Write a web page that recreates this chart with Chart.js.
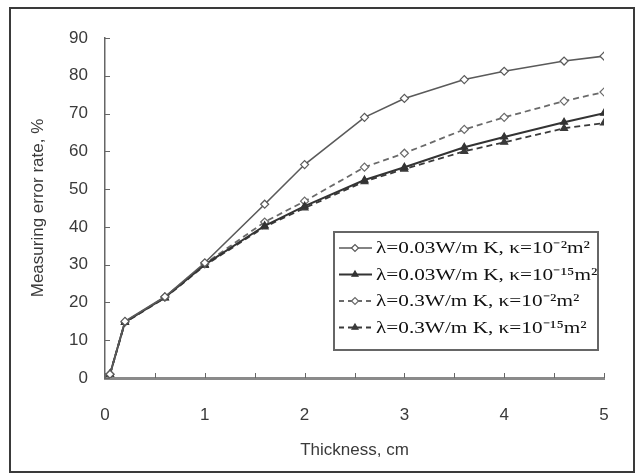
<!DOCTYPE html>
<html>
<head>
<meta charset="utf-8">
<script src="https://cdn.jsdelivr.net/npm/chart.js@4.4.1/dist/chart.umd.min.js"></script>
<style>
  html, body { margin: 0; padding: 0; background: #fff; }
  #frame { position: absolute; left: 9px; top: 7px; width: 626px; height: 466px; border: 2px solid #3a3a3a; box-sizing: border-box; }
  #wrap { position: absolute; left: 0; top: 0; width: 638px; height: 475px; }
</style>
</head>
<body>
<div id="frame"></div>
<div id="wrap"><canvas id="chart" width="638" height="475"></canvas></div>
<script>
// ---- データ ----
const thickness = [0.05, 0.2, 0.6, 1.0, 1.6, 2.0, 2.6, 3.0, 3.6, 4.0, 4.6, 5.0];
const errA = [1, 15, 21.5, 30.5, 46, 56.5, 69, 74, 79, 81.2, 83.9, 85.2];     // λ=0.03, κ=10^-2
const errB = [1, 14.8, 21.3, 30, 40.3, 45.5, 52.4, 55.8, 61.1, 63.8, 67.7, 70.1]; // λ=0.03, κ=10^-15
const errC = [1, 14.8, 21.4, 30.2, 41.3, 46.8, 55.8, 59.5, 65.8, 69.0, 73.3, 75.7]; // λ=0.3, κ=10^-2
const errD = [1, 14.7, 21.2, 29.8, 40, 45, 52.0, 55.3, 60.0, 62.4, 66.1, 67.5];  // λ=0.3, κ=10^-15
const seriesLabels = [
    'λ=0.03W/m K, κ=10⁻²m²',
    'λ=0.03W/m K, κ=10⁻¹⁵m²',
    'λ=0.3W/m K, κ=10⁻²m²',
    'λ=0.3W/m K, κ=10⁻¹⁵m²',
];

const sansFont = "'Liberation Sans', Arial, sans-serif";
const serifFont = "'Liberation Serif', 'Times New Roman', serif";

function toPoints(ys) {
    return thickness.map((x, i) => ({ x, y: ys[i] }));
}

function makeDataset(label, ys, opts) {
    return {
        label,
        data: toPoints(ys),
        borderColor: opts.color,
        borderWidth: opts.width,
        borderDash: opts.dash || [],
        pointStyle: opts.point,
        pointRadius: 4,
        pointBorderWidth: 1.2,
        pointBorderColor: opts.color,
        pointBackgroundColor: opts.fill,
        tension: 0,
    };
}

const datasets = [
    makeDataset(seriesLabels[0], errA, { color: '#5a5a5a', width: 1.6, point: 'rectRot', fill: '#ffffff' }),
    makeDataset(seriesLabels[1], errB, { color: '#333333', width: 2, point: 'triangle', fill: '#333333' }),
    makeDataset(seriesLabels[2], errC, { color: '#6a6a6a', width: 1.8, dash: [6, 4], point: 'rectRot', fill: '#ffffff' }),
    makeDataset(seriesLabels[3], errD, { color: '#3a3a3a', width: 1.8, dash: [6, 4], point: 'triangle', fill: '#3a3a3a' }),
];

// 内向きの目盛り線
const innerTicks = {
    id: 'innerTicks',
    afterDraw(chart) {
        const { ctx, chartArea, scales } = chart;
        ctx.save();
        ctx.strokeStyle = '#666';
        ctx.lineWidth = 1;
        scales.x.ticks.forEach(t => {
            const px = Math.round(scales.x.getPixelForValue(t.value)) + 0.5;
            ctx.beginPath();
            ctx.moveTo(px, chartArea.bottom);
            ctx.lineTo(px, chartArea.bottom - 5);
            ctx.stroke();
        });
        scales.y.ticks.forEach(t => {
            const py = Math.round(scales.y.getPixelForValue(t.value)) + 0.5;
            ctx.beginPath();
            ctx.moveTo(chartArea.left, py);
            ctx.lineTo(chartArea.left + 5, py);
            ctx.stroke();
        });
        ctx.restore();
    }
};

// グラフ内の凡例（横に引き伸ばした明朝体）
const boxLegend = {
    id: 'boxLegend',
    afterDraw(chart) {
        const { ctx, chartArea } = chart;
        const left = chartArea.right - 270;
        const top = chartArea.top + 194;
        const w = 264, h = 118, rowH = 26.5;
        ctx.save();
        ctx.fillStyle = '#fff';
        ctx.fillRect(left, top, w, h);
        ctx.strokeStyle = '#666';
        ctx.lineWidth = 2;
        ctx.strokeRect(left, top, w, h);
        chart.data.datasets.forEach((ds, i) => {
            const cy = top + 16 + i * rowH;
            ctx.strokeStyle = ds.borderColor;
            ctx.lineWidth = ds.borderWidth;
            ctx.setLineDash(ds.borderDash.length ? [5, 4] : []);
            ctx.beginPath();
            ctx.moveTo(left + 5, cy);
            ctx.lineTo(left + 38, cy);
            ctx.stroke();
            ctx.setLineDash([]);
            ctx.fillStyle = ds.pointBackgroundColor;
            ctx.strokeStyle = ds.pointBorderColor;
            ctx.lineWidth = 1.2;
            Chart.helpers.drawPoint(ctx, { pointStyle: ds.pointStyle, radius: 3.5, borderWidth: 1.2 }, left + 21, cy);

            ctx.save();
            ctx.translate(left + 42, cy + 1);
            ctx.scale(1.25, 1);
            ctx.fillStyle = '#111';
            ctx.font = '17px ' + serifFont;
            ctx.textBaseline = 'middle';
            ctx.fillText(ds.label, 0, 0);
            ctx.restore();
        });
        ctx.restore();
    }
};

new Chart(document.getElementById('chart'), {
    type: 'line',
    data: { datasets },
    options: {
        responsive: false,
        animation: false,
        layout: { padding: { top: 38, right: 34, left: 0, bottom: 0 } },
        plugins: {
            legend: { display: false },
            tooltip: { enabled: false },
        },
        scales: {
            x: {
                type: 'linear',
                min: 0,
                max: 5,
                afterFit: s => { s.height = 97; },
                ticks: {
                    stepSize: 0.5,
                    padding: 27,
                    color: '#3a3a3a',
                    font: { family: sansFont, size: 17 },
                    callback: v => (Number.isInteger(v) ? v : ''),
                },
                grid: { display: false, drawTicks: false },
                border: { display: true, color: '#8a8a8a', width: 3 },
                title: {
                    display: true,
                    text: 'Thickness, cm',
                    color: '#3a3a3a',
                    font: { family: sansFont, size: 17 },
                    padding: { top: 6, bottom: 14 },
                },
            },
            y: {
                min: 0,
                max: 90,
                afterFit: s => { s.width = 105; },
                ticks: {
                    stepSize: 5,
                    padding: 17,
                    color: '#3a3a3a',
                    font: { family: sansFont, size: 17 },
                    callback: v => (v % 10 === 0 ? v : ''),
                },
                grid: { display: false, drawTicks: false },
                border: { display: true, color: '#666', width: 1.5 },
                title: {
                    display: true,
                    text: 'Measuring error rate, %',
                    color: '#3a3a3a',
                    font: { family: sansFont, size: 17 },
                    padding: { top: 28, bottom: 0 },
                },
            },
        },
    },
    plugins: [innerTicks, boxLegend],
});
</script>
</body>
</html>
